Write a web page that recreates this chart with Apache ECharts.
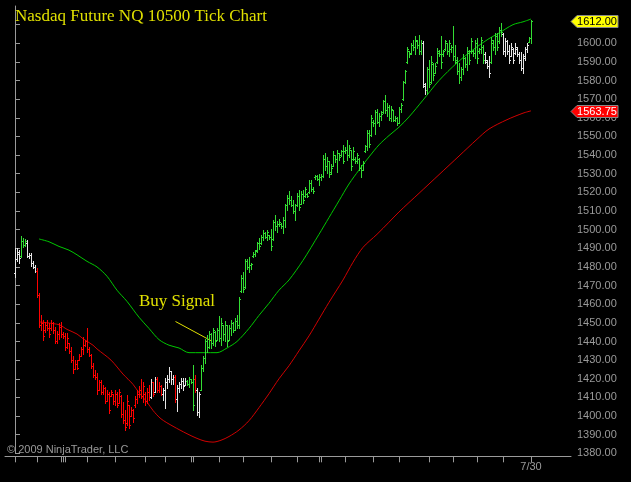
<!DOCTYPE html>
<html><head><meta charset="utf-8">
<script src="https://cdn.jsdelivr.net/npm/echarts@6/dist/echarts.min.js"></script>
<style>html,body{margin:0;padding:0;background:#000;}#c{width:631px;height:482px;}</style>
</head><body><div id="c"></div>
<script>
// ---- DATA ----
const chartTitle = 'Nasdaq Future NQ 10500 Tick Chart';
const barOpen = [1476.5,1484,1487,1486,1494,1492,1493,1486,1486.5,1482,
1480,1478,1465,1449,1450,1446,1449,1447,1447,1450,
1446,1440,1444,1448,1444,1443,1437,1439,1435,1430,
1425,1428,1430,1432,1436,1438,1440,1436,1433,1427,
1422,1421,1414,1418,1413,1415,1408,1412,1411,1412,
1408,1412,1407,1411,1401,1398,1396,1406,1400,1403,
1406,1409,1412,1414,1411,1412,1408,1413,1410,1418,
1413,1420,1414,1416,1412,1414,1418,1420,1424,1420,
1421,1409,1415,1417,1419,1416.5,1419,1417,1420,1418,
1420,1414,1402,1414,1426,1431,1440,1437,1444,1439,
1445,1441,1446,1442,1449,1444,1449,1441,1447,1450,
1446,1451,1449,1467,1474,1469,1483,1480,1481,1486,
1487,1489,1493,1493,1496,1498,1496,1497,1496,1495,
1504,1502,1503,1503,1502,1505,1513,1517,1516,1513,
1510,1513,1518,1514,1519,1518,1519,1520,1525,1522,
1528,1529,1527,1528,1529,1538,1534,1537,1531,1534,
1540,1538,1541,1540,1542,1542,1543,1540,1543,1538,
1538,1537,1538,1533,1532,1542,1545,1552,1551,1558,
1557,1563,1558,1561,1563,1569,1564,1566,1560,1564,
1559,1560,1557,1565,1570,1579,1590,1596,1595,1599,
1598,1601,1599,1596,1600,1577,1575,1586,1579,1589,
1584,1590,1595,1594,1594,1597,1600,1596,1597,1598,
1593,1590,1585,1582,1586,1592,1589,1595,1596,1596,
1595,1600,1596,1597,1598,1594,1590,1588,1590,1600,
1598,1604,1601,1607,1605,1596,1601,1596,1593,1597,
1595,1597,1594,1591,1587,1592,1597,1600.5,1603];
const barHigh = [1490,1490,1489,1496.5,1495.5,1495,1494.5,1487.5,1487.5,1483,
1481,1479.5,1466,1454,1451.5,1450.5,1451.5,1450,1451.5,1450.5,
1448,1445.5,1450,1450.5,1445,1444.5,1444.5,1439,1437,1432,
1430,1430,1433.5,1437,1442.5,1441,1447,1437,1433.5,1428.5,
1424.5,1423,1419.5,1419.5,1416.5,1415.5,1414,1413,1414,1412,
1414,1413,1414.5,1411.5,1407.5,1403,1411.5,1406,1405,1404,
1410.5,1414,1416,1420,1418,1413,1415,1416.5,1420,1418,
1421,1421,1418,1416.5,1415,1420.5,1422,1426.5,1424,1422,
1422,1416.5,1418.5,1420.5,1420.5,1420.5,1419.5,1421,1420,1427.5,
1422,1415,1413,1427.5,1432,1441.5,1443.5,1445.5,1444.5,1447,
1445.5,1447,1453.5,1452.5,1449,1451,1449,1449,1451.5,1450.5,
1452.5,1454,1464,1475.5,1477.5,1484.5,1484.5,1485.5,1482,1488,
1489,1493.5,1495.5,1497,1500,1499,1500,1497,1500.5,1505,
1508,1504.5,1505.5,1503.5,1507,1514,1518.5,1520.5,1518,1516,
1514,1519.5,1521.5,1520.5,1521.5,1523,1519.5,1526.5,1526.5,1523,
1529.5,1529.5,1530,1530,1540,1541,1539,1537,1535,1542,
1540,1543,1541,1543,1545.5,1544.5,1548,1545.5,1543,1544.5,
1539,1541,1538.5,1534.5,1537,1545.5,1553.5,1553.5,1561.5,1559,
1564,1565,1562.5,1563.5,1569.5,1572.5,1568,1567,1566.5,1564,
1561,1560.5,1566,1568,1579.5,1585.5,1598,1596,1600,1601.5,
1604,1602,1604.5,1601.5,1601,1578.5,1587.5,1591,1593,1589.5,
1589.5,1597.5,1596.5,1604,1596.5,1602,1600,1602,1599,1609.5,
1599,1592.5,1589.5,1587.5,1594.5,1592.5,1598,1596.5,1603,1596.5,
1602,1603,1597.5,1603.5,1599,1595.5,1591,1593,1603.5,1601.5,
1605.5,1605.5,1609,1611,1605.5,1603,1602,1599,1600,1597.5,
1600,1598,1595.5,1595.5,1594.5,1598,1600,1603.5,1612.5];
const barLow = [1474.5,1483,1482,1485.5,1490.5,1491,1485.5,1485,1480.5,1479.5,
1477.5,1464,1448,1446,1441,1445,1446,1442.5,1446,1444.5,
1439,1439,1441.5,1442.5,1442,1435.5,1436.5,1434,1429,1423,
1425,1425,1430,1432,1433.5,1437.5,1434.5,1432,1425.5,1421,
1420,1412,1414,1412,1412,1407,1408,1401.5,1410.5,1406.5,
1406,1405,1407,1399.5,1396,1392.5,1395,1393.5,1400,1397,
1405,1407,1410,1409.5,1407.5,1406,1407,1408.5,1409.5,1411,
1413,1413,1413,1411.5,1408.5,1404.5,1415,1418.5,1417,1417,
1407.5,1402.5,1413,1415,1414,1416.5,1416.5,1415.5,1417.5,1403,
1413,1400.5,1399.5,1414,1424,1428.5,1434.5,1436.5,1436.5,1438,
1437.5,1441,1440,1438,1441,1440,1437.5,1441,1443.5,1445,
1446,1447,1447,1466.5,1466.5,1468.5,1479,1477.5,1479,1485.5,
1486,1488,1489.5,1492.5,1494.5,1495.5,1494.5,1495,1489,1494.5,
1500,1499,1502,1501,1498,1501.5,1510.5,1514,1512.5,1509,
1505,1512.5,1510.5,1513.5,1514.5,1517.5,1517.5,1519.5,1521,1519.5,
1527,1526.5,1524,1526.5,1528.5,1532,1530.5,1528.5,1530,1534,
1536.5,1531,1537.5,1539.5,1535.5,1541,1537.5,1539,1532,1537.5,
1535.5,1535.5,1532,1528.5,1532,1541.5,1543,1544.5,1550,1555.5,
1551.5,1557,1555.5,1559,1562.5,1562.5,1561,1559,1558.5,1558.5,
1558.5,1556,1557,1563,1569.5,1578.5,1589.5,1592.5,1594.5,1596.5,
1594.5,1597.5,1594.5,1594.5,1576.5,1573,1573,1576.5,1578.5,1580.5,
1584,1589.5,1593,1586.5,1593,1596.5,1594.5,1593,1595.5,1591,
1589.5,1583.5,1578.5,1580.5,1583.5,1587.5,1585.5,1589,1595,1593,
1592,1589.5,1595,1595,1589.5,1589.5,1586.5,1582,1589.5,1596.5,
1594.5,1596.5,1600,1604,1594.5,1593,1594.5,1589.5,1593,1589.5,
1594.5,1593,1589.5,1585.5,1584,1591,1595.5,1600.5,1600];
const barClose = [1484,1488,1485,1494,1492,1494,1486,1486.5,1482,1480,
1478,1465,1449,1450,1443,1449,1447,1444,1450,1446,
1440,1444,1448,1444,1443,1437,1442,1435,1430,1425,
1428,1426,1432,1436,1438,1440,1436,1433,1427,1422,
1421,1414,1418,1413,1415,1408,1412,1403,1413,1408,
1412,1406,1413,1401,1398,1394,1408,1395,1403,1399,
1409,1412,1414,1411,1416,1408,1413,1410,1418,1412,
1420,1414,1416,1412,1414,1418,1420,1424,1420,1421,
1409,1415,1417,1419,1416,1419,1417,1420,1418,1406,
1414,1402,1412,1426,1431,1440,1437,1444,1439,1446,
1440,1446,1442,1450,1444,1449,1440,1447,1450,1446,
1451,1449,1463,1474,1468,1483,1480,1481,1481.5,1487,
1488.5,1493,1491,1496,1498,1496,1499,1496,1491,1504,
1502,1503,1504,1502,1505,1513,1517,1516,1513,1510,
1513,1518,1512,1519,1516,1522,1518,1525,1522,1521,
1529,1527,1528,1529,1538,1534,1537,1530,1533,1540,
1538,1541,1539,1542,1537,1543,1540,1544,1534,1542,
1537,1540,1533,1532,1536,1545,1552,1546,1560,1557,
1563,1558,1561,1562,1569,1564,1566,1560,1565,1559,
1560,1557,1565,1567,1579,1585,1597,1594,1599,1598,
1602,1599,1596,1600,1578,1575,1586,1578,1590,1583,
1588,1596,1594,1590,1596,1601,1596,1600,1598,1593,
1591,1585,1582,1586,1592,1589,1596,1591,1601,1595,
1600,1592,1597,1602,1591,1591,1588,1584,1602,1598,
1604,1598,1607,1606,1596,1601,1596,1591,1598,1591,
1598,1594,1591,1587,1593,1597,1599,1603,1612];
const barColor = ('wwwgggwwwww' +
  'rrrrrrrrrrrrrrrrrrrrrrrrrrrrrrrrrrrrrrrrrrrrrrrrrrrrrrrrr' +
  'wrwrrrwwwwwwrwwwwwggggrww' +
  'ggggggggggggggggggggggggggggggggggggggggggggggggggggggggggggggggggggggggggggggggggggggggggggggggggggggggggggggg' +
  'wwgggggggggggggggggggggggggggggwwwggggggwwwwwwwwwwwwwgg').split('');
// moving averages: [bar index, value]
const greenMA = [[12,1495],[17,1493.5],[22,1491],[27,1489],[31,1486.5],[36,1483],[41,1480],[46,1475],[51,1467.5],[56,1461.5],[62,1453],[67,1447],[72,1441],[77,1438],[82,1436.5],[87,1434],[101,1434],[106,1436.5],[111,1440],[117,1447],[122,1454],[127,1460.5],[132,1467.5],[137,1473],[144,1483.5],[152,1497.5],[157,1506.5],[162,1515.5],[167,1524.5],[172,1532],[177,1539],[182,1545.5],[187,1550.5],[192,1555],[197,1560.5],[204,1569.5],[212,1580],[221,1589.5],[229,1596.5],[237,1602.5],[242,1605.5],[249,1610],[254,1611.5],[258,1613]];
const redMA = [[12,1450.5],[22,1449],[26,1446.5],[31,1444],[34,1441.5],[39,1438],[41,1436],[48,1430],[54,1422.5],[59,1417],[62,1412.5],[66,1407.5],[69,1403],[73,1398.5],[79,1394.5],[86,1390.5],[91,1388],[95,1386.5],[99,1386],[103,1387],[107,1389],[112,1392.5],[117,1397.5],[122,1404.5],[127,1412],[132,1420],[137,1427],[142,1435],[147,1443],[152,1452],[157,1461],[164,1473],[169,1482.5],[174,1490.5],[181,1497.5],[187,1504],[192,1509.5],[202,1519.5],[212,1529.5],[222,1539.5],[231,1548.5],[237,1554],[246,1559],[254,1562.5],[258,1563.75]];
const timeTickIdx = [0,11,23,24,25,36,50,65,75,88,89,102,114,128,141,152,153,165,179,192,207,219,231,244,258];
const dateLabelIdx = [258];
const dateLabelText = ['7/30'];
const buySignalText = 'Buy Signal';
const copyrightText = '\u00A9 2009 NinjaTrader, LLC';

// ---- CHART ----
const colorMap = {w:'#e6e6e6', g:'#33dd33', r:'#ff0000'};
const ohlc = barOpen.map((o,i)=>[i,o,barHigh[i],barLow[i],barClose[i]]);
const chart = echarts.init(document.getElementById('c'), null, {renderer:'canvas', width:631, height:482});

function renderOHLC(params, api){
  const i = api.value(0);
  const pO = api.coord([i, api.value(1)]);
  const pH = api.coord([i, api.value(2)]);
  const pL = api.coord([i, api.value(3)]);
  const pC = api.coord([i, api.value(4)]);
  const cx = Math.floor(pH[0] + 0.001);
  const col = colorMap[barColor[params.dataIndex]] || '#fff';
  const top = Math.round(pH[1]), bot = Math.round(pL[1]);
  const oy = Math.round(pO[1]) + 0.5, cy = Math.round(pC[1]) + 0.5;
  return {type:'group', children:[
    {type:'line', silent:true, shape:{x1:cx+0.5, y1:top, x2:cx+0.5, y2:bot+1}, style:{stroke:col, lineWidth:1, fill:null}},
    {type:'line', silent:true, shape:{x1:cx-1, y1:oy, x2:cx+0.5, y2:oy}, style:{stroke:col, lineWidth:1, fill:null}},
    {type:'line', silent:true, shape:{x1:cx+0.5, y1:cy, x2:cx+2, y2:cy}, style:{stroke:col, lineWidth:1, fill:null}}
  ]};
}

const axisGray = '#9a9a9a';
chart.setOption({
  backgroundColor:'#000',
  animation:false,
  title:{text:chartTitle, left:10, top:3, textStyle:{color:'#e0e000', fontFamily:'Liberation Serif', fontSize:17, fontWeight:'normal'}},
  grid:{left:5, right:60, top:6, bottom:28.7},
  xAxis:{type:'value', min:-5, max:278, offset:3,
    axisLine:{show:true, lineStyle:{color:axisGray}},
    axisTick:{show:true, length:6, lineStyle:{color:axisGray}, customValues:timeTickIdx},
    axisLabel:{show:true, customValues:dateLabelIdx, color:axisGray, fontSize:11, fontFamily:'Liberation Sans', margin:5,
      formatter:(v)=>{const k=dateLabelIdx.indexOf(Math.round(v)); return k>=0?dateLabelText[k]:'';}},
    splitLine:{show:false}},
  yAxis:{type:'value', position:'right', min:1380, max:1620, interval:10,
    axisLine:{show:true, lineStyle:{color:axisGray}},
    axisTick:{show:true, length:5, lineStyle:{color:axisGray}},
    axisLabel:{color:axisGray, fontSize:11, fontFamily:'Liberation Sans', margin:6, showMaxLabel:false,
      formatter:(v)=>v.toFixed(2)},
    splitLine:{show:false}},
  series:[
    {type:'line', data:greenMA, showSymbol:false, smooth:0.3, lineStyle:{color:'#00c800', width:1}, z:1, silent:true},
    {type:'line', data:redMA, showSymbol:false, smooth:0.3, lineStyle:{color:'#d00000', width:1}, z:1, silent:true},
    {type:'custom', data:ohlc, renderItem:renderOHLC, encode:{x:0, y:[1,2,3,4]}, z:2, silent:true}
  ]
});

function badge(value, fill, textColor){
  const y = Math.round(chart.convertToPixel({yAxisIndex:0}, value)) + 0.5;
  const x0 = 571;
  return [
    {type:'polygon', z:100, shape:{points:[[x0,y],[x0+6,y-6],[618,y-6],[618,y+6],[x0+6,y+6]]}, style:{fill:fill, stroke:'#888', lineWidth:1}},
    {type:'text', z:101, style:{x:597, y:y, text:value.toFixed(2), fill:textColor, font:'11px "Liberation Sans"', align:'center', verticalAlign:'middle'}}
  ];
}
const lastClose = barClose[barClose.length-1];
const lastRed = redMA[redMA.length-1][1];
const buyPt = chart.convertToPixel({xAxisIndex:0, yAxisIndex:0}, [95, 1441.5]);
chart.setOption({graphic:[
  ...badge(lastClose, '#ffff00', '#000'),
  ...badge(lastRed, '#ff0000', '#fff'),
  {type:'text', style:{x:139, y:302, text:buySignalText, fill:'#e0e000', font:'17px "Liberation Serif"', verticalAlign:'middle'}},
  {type:'line', shape:{x1:175.5, y1:321.5, x2:buyPt[0]+6, y2:buyPt[1]+2}, style:{stroke:'#e0e000', lineWidth:1}},
  {type:'text', style:{x:7, y:450, text:copyrightText, fill:axisGray, font:'11px "Liberation Sans"', verticalAlign:'middle'}}
]});
</script></body></html>
